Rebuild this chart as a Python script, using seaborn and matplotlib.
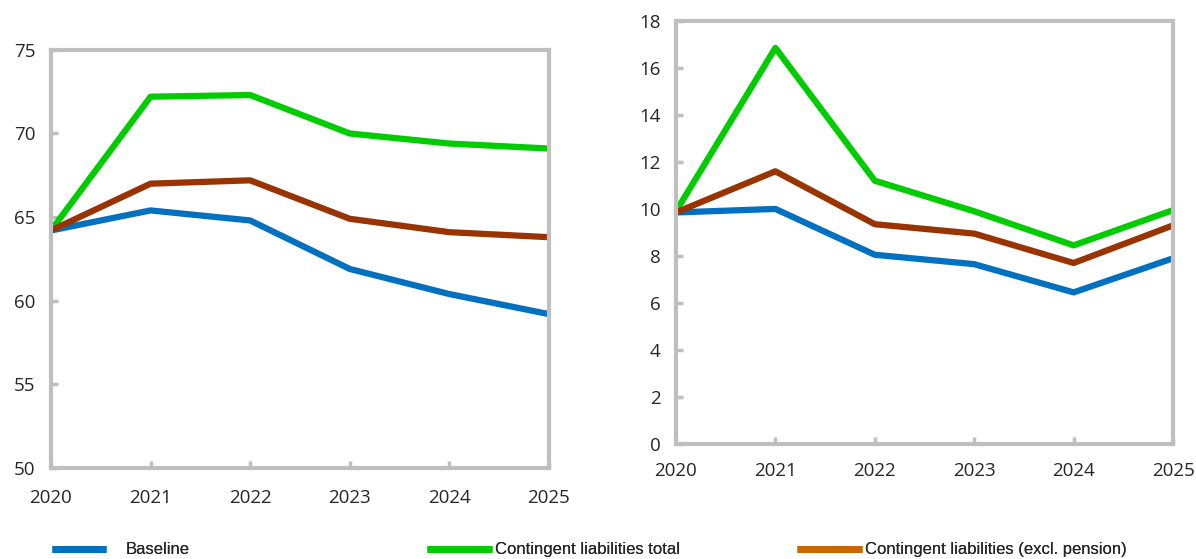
import pandas as pd
import matplotlib.pyplot as plt
import seaborn as sns
from matplotlib.lines import Line2D

years = [2020, 2021, 2022, 2023, 2024, 2025]
series = ["Baseline", "Contingent liabilities total", "Contingent liabilities (excl. pension)"]

# left panel
debtBaseline = [64.2, 65.4, 64.8, 61.9, 60.4, 59.2]
debtTotal = [64.2, 72.2, 72.3, 70.0, 69.4, 69.1]
debtExcl = [64.2, 67.0, 67.2, 64.9, 64.1, 63.8]

# right panel
gfnBaseline = [9.85, 10.0, 8.05, 7.65, 6.45, 7.9]
gfnTotal = [9.9, 16.85, 11.2, 9.9, 8.45, 9.95]
gfnExcl = [9.85, 11.6, 9.35, 8.95, 7.7, 9.3]

lineColors = ["#0070C0", "#00CC00", "#993300"]
legendColors = ["#0070C0", "#00CC00", "#CC6600"]
spineColor = "#BFBFBF"
textColor = "#262626"

def makeFrame(values):
    rows = []
    for name, vals in zip(series, values):
        for y, v in zip(years, vals):
            rows.append({"year": y, "value": v, "series": name})
    return pd.DataFrame(rows)

sns.set_theme(style="white")
plt.rcParams['font.family'] = ['Open Sans', 'DejaVu Sans']

fig = plt.figure(figsize=(11.96, 5.59), dpi=100)
axLeft = fig.add_axes([0.0426, 0.1628, 0.4164, 0.748])
axRight = fig.add_axes([0.5652, 0.2057, 0.4156, 0.757])

def styleAxis(ax, df, ylim, yticks, xpad):
    sns.lineplot(data=df, x="year", y="value", hue="series", palette=lineColors,
                 linewidth=4.5, legend=False, ax=ax)
    ax.set_xlim(2020, 2025)
    ax.set_ylim(*ylim)
    ax.set_yticks(yticks)
    ax.set_xticks(years)
    ax.set_xlabel("")
    ax.set_ylabel("")
    for s in ax.spines.values():
        s.set_color(spineColor)
        s.set_linewidth(3)
        s.set_visible(True)
    ax.tick_params(axis="both", direction="in", length=5, width=2.5, color=spineColor,
                   labelsize=13.5, labelcolor=textColor)
    ax.tick_params(axis="y", pad=11, left=True)
    ax.tick_params(axis="x", pad=xpad, bottom=True)

styleAxis(axLeft, makeFrame([debtBaseline, debtTotal, debtExcl]), (50, 75), range(50, 76, 5), 15)
styleAxis(axRight, makeFrame([gfnBaseline, gfnTotal, gfnExcl]), (0, 18), range(0, 19, 2), 13)

# three separate legend entries along the bottom
legendX = [0.0418, 0.356, 0.665]
handleLen = [3.25, 3.9, 3.9]
textPad = [1.2, 0.15, 0.15]
for i in range(3):
    h = Line2D([], [], color=legendColors[i], linewidth=5, solid_capstyle="butt")
    lg = fig.legend([h], [series[i]], loc="lower left", bbox_to_anchor=(legendX[i], 0.0),
                    frameon=False, handlelength=handleLen[i], handletextpad=textPad[i],
                    prop={"family": ["Liberation Sans", "DejaVu Sans"], "size": 12},
                    labelcolor=textColor, borderaxespad=0, borderpad=0.1)
    fig.add_artist(lg)

fig.savefig("out.png", dpi=100)
